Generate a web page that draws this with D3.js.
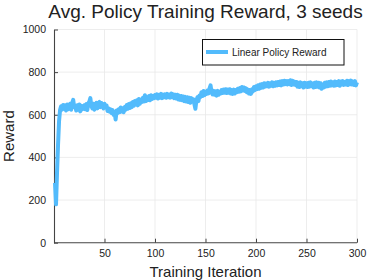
<!DOCTYPE html>
<html><head><meta charset="utf-8">
<script src="https://cdn.jsdelivr.net/npm/d3@7"></script>
<style>
html,body{margin:0;padding:0;background:#fff;}
svg text{font-family:"Liberation Sans",Arial,Helvetica,sans-serif;fill:#222;}
</style></head>
<body><svg id="chart" width="374" height="280"></svg>
<script>
const titleText = "Avg. Policy Training Reward, 3 seeds";
const xLabel = "Training Iteration";
const yLabel = "Reward";
const seriesName = "Linear Policy Reward";
const xTicks = [50, 100, 150, 200, 250, 300];
const yTicks = [0, 200, 400, 600, 800, 1000];
const rewards = [
280,180,330,460,570,622,640,624,646,628,
644,620,648,626,640,652,624,656,670,636,
640,620,645,624,648,616,642,626,634,644,
626,650,622,655,662,678,640,630,652,624,
646,656,630,654,660,636,655,640,630,652,
636,644,618,630,614,626,608,622,600,612,
578,620,608,626,612,634,616,630,612,636,
624,646,628,650,632,654,636,660,642,664,
648,668,644,674,652,670,660,680,662,692,
664,682,670,688,668,692,674,688,678,692,
680,696,676,694,680,698,678,694,682,696,
680,698,682,694,680,700,684,696,678,694,
676,694,672,690,670,688,668,686,664,684,
662,682,660,680,656,678,662,672,650,628,
668,682,664,690,684,706,688,712,692,708,
698,714,700,724,738,706,696,712,694,710,
690,712,694,708,700,716,702,718,704,720,
702,718,704,720,700,716,698,718,700,716,
706,722,708,726,710,730,714,728,712,724,
706,718,700,716,698,720,710,730,716,734,
720,738,722,742,726,744,728,748,732,746,
734,750,732,748,736,752,734,750,736,752,
738,754,740,756,738,758,742,760,744,758,
742,758,744,762,740,760,742,756,740,754,
732,750,730,752,734,748,728,750,732,748,
730,750,732,752,734,746,728,750,730,752,
732,750,728,748,722,734,728,750,732,752,
734,754,736,756,738,752,736,756,738,754,
740,758,736,756,742,758,740,754,742,760,
740,758,744,760,742,756,740,758,738,752
];
const iterations = rewards.map((_, i) => i + 1);

const svg = d3.select("#chart");
const L = 54, R = 357, T = 29.5, B = 242.7;
const x = d3.scaleLinear().domain([0, 300]).range([L, R]);
const y = d3.scaleLinear().domain([0, 1000]).range([B, T]);
const lineColor = "#52bbfc";

// grid
const g = svg.append("g");
g.selectAll("line.gx").data(xTicks).join("line")
  .attr("x1", d => x(d)).attr("x2", d => x(d)).attr("y1", T).attr("y2", B)
  .attr("stroke", "#e8e8e8").attr("stroke-width", 0.8);
g.selectAll("line.gy").data(yTicks.filter(d => d > 0)).join("line")
  .attr("x1", L).attr("x2", R).attr("y1", d => y(d)).attr("y2", d => y(d))
  .attr("stroke", "#e8e8e8").attr("stroke-width", 0.8);

// axes
const fmt = d3.format("d");
const xAxis = d3.axisBottom(x).tickValues(xTicks).tickFormat(fmt).tickSizeInner(-4).tickSizeOuter(0).tickPadding(7);
const yAxis = d3.axisLeft(y).tickValues(yTicks).tickFormat(fmt).tickSizeInner(-4).tickSizeOuter(0).tickPadding(8);
const gx = svg.append("g").attr("transform", `translate(0,${B})`).call(xAxis);
const gy = svg.append("g").attr("transform", `translate(${L},0)`).call(yAxis);
[gx, gy].forEach(a => {
  a.select(".domain").attr("stroke", "#444").attr("stroke-width", 1.1);
  a.selectAll(".tick line").attr("stroke", "#444");
  a.selectAll(".tick text").attr("font-size", "10.5px").attr("fill", "#222")
    .attr("font-family", "'Liberation Sans',Arial,sans-serif");
});
gx.select(".domain").attr("d", `M${L},0H${R}`);

// line
const line = d3.line().x((d, i) => x(iterations[i])).y(d => y(d)).curve(d3.curveLinear);
svg.append("path").datum(rewards).attr("d", line)
  .attr("fill", "none").attr("stroke", lineColor).attr("stroke-width", 4)
  .attr("stroke-linejoin", "round").attr("stroke-linecap", "butt");

// title and labels
svg.append("text").attr("x", (L + R) / 2).attr("y", 17.5).attr("text-anchor", "middle")
  .attr("font-size", "19px").text(titleText);
svg.append("text").attr("x", (L + R) / 2).attr("y", 277).attr("text-anchor", "middle")
  .attr("font-size", "15px").text(xLabel);
svg.append("text").attr("transform", `translate(14,${(T + B) / 2}) rotate(-90)`)
  .attr("text-anchor", "middle").attr("font-size", "15px").text(yLabel);

// legend
const lg = svg.append("g");
lg.append("rect").attr("x", 202.5).attr("y", 39.5).attr("width", 141.5).attr("height", 25.5)
  .attr("fill", "#fff").attr("stroke", "#111").attr("stroke-width", 1);
lg.append("line").attr("x1", 206).attr("x2", 228).attr("y1", 52).attr("y2", 52)
  .attr("stroke", lineColor).attr("stroke-width", 4);
lg.append("text").attr("x", 232).attr("y", 55.8).attr("font-size", "10px").text(seriesName);
</script></body></html>
